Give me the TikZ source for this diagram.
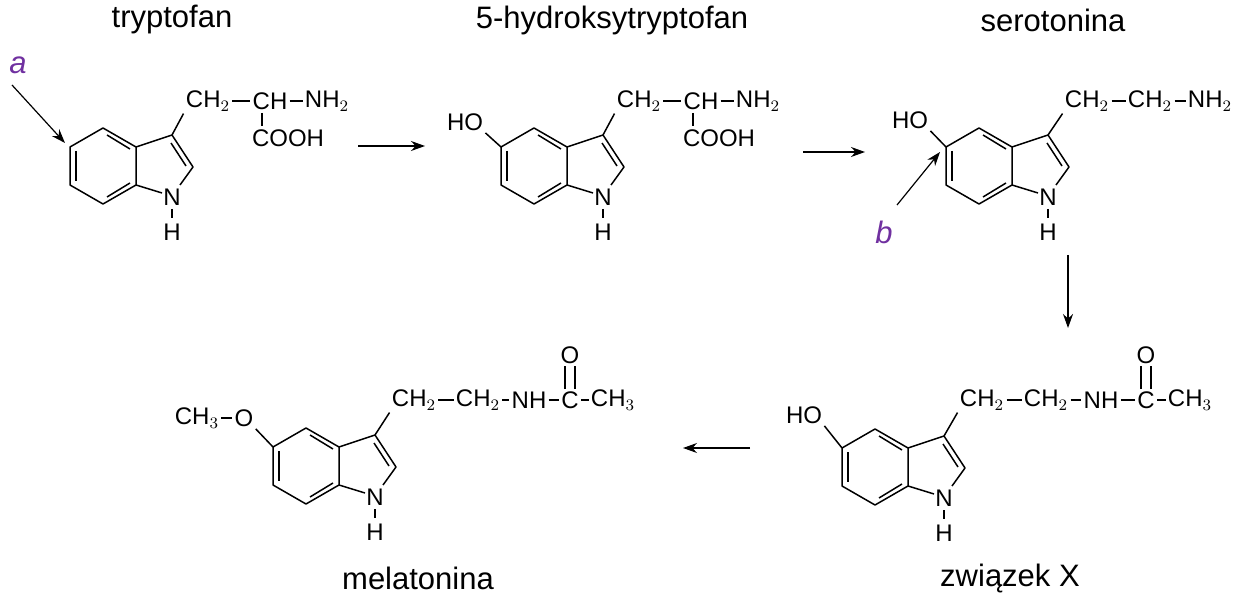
\documentclass[tikz,border=0pt]{standalone}
\usepackage{fontspec}
\usetikzlibrary{arrows.meta}
\setmainfont{Liberation Sans}
\definecolor{lab}{RGB}{112,48,160}
\newcommand{\indole}[2]{%
\begin{scope}[shift={(#1,#2)}]
\draw[bond] (0,-38)--(33,-19)--(33,19)--(0,38)--(-33,19)--(-33,-19)--cycle;
\draw[bond] (-27,-15)--(-27,15);
\draw[bond] (4,-31)--(27,-17);
\draw[bond] (4,31)--(27,17);
\draw[bond] (33,-19)--(69,-31)--(90,1)--(77,19);
\draw[bond] (33,19)--(59,27);
\draw[bond] (68,-23)--(83,0);
\draw[bond] (69,43)--(69,52);
\node[atom] at (69,31) {N};
\node[atom] at (69,66) {H};
\end{scope}}
\begin{document}
\begin{tikzpicture}[x=0.5pt,y=-0.5pt,
 bond/.style={line width=0.75pt,line join=round},
 atom/.style={font=\fontsize{12}{14}\selectfont,inner sep=1pt},
 ttl/.style={font=\fontsize{15.5}{18}\selectfont},
 arr/.style={-{Stealth[length=7pt,width=5pt]},line width=0.6pt},
 lbl/.style={font=\fontsize{15.5}{18}\selectfont\itshape,text=lab}]
\useasboundingbox (0,0) rectangle (1245,603);
% titles
\node[ttl] (t1) at (172,20) {tryptofan};
\node[ttl] (t2) at (612,20) {5-hydroksytryptofan};
\node[ttl] (t3) at (1053,20) {serotonina};
\node[ttl] (t4) at (418,578) {melatonina};
\node[ttl] (t5) at (1010,578) {związek X};
% tryptophan
\indole{103}{166}
\node[atom] (a1) at (208,101) {CH$_2$};
\node[atom] (a2) at (270,101) {CH};
\node[atom] (a3) at (327,101) {NH$_2$};
\node[atom] (a4) at (288,138) {COOH};
\coordinate (a0) at (172,135);
\draw[bond] (a0)--(a1.south west);
\draw[bond] (a1)--(a2); \draw[bond] (a2)--(a3);
\draw[bond] (262,113)--(262,126);
\node[lbl] (la) at (18,65) {a};
\coordinate (pa1) at (12,85); \coordinate (pa2) at (65,143);
\draw[arr] (pa1)--(pa2);
% 5-HTP
\indole{534}{166}
\node[atom] (b0) at (465,122) {HO};
\draw[bond] (b0.south east)--(501,147);
\node[atom] (b1) at (639,101) {CH$_2$};
\node[atom] (b2) at (701,101) {CH};
\node[atom] (b3) at (758,101) {NH$_2$};
\node[atom] (b4) at (719,138) {COOH};
\draw[bond] (603,135)--(b1.south west);
\draw[bond] (b1)--(b2); \draw[bond] (b2)--(b3);
\draw[bond] (693,113)--(693,126);
% serotonin
\indole{979}{166}
\node[atom] (c0) at (910,120) {HO};
\draw[bond] (c0.south east)--(946,147);
\node[atom] (c1) at (1087,101) {CH$_2$};
\node[atom] (c2) at (1150,101) {CH$_2$};
\node[atom] (c3) at (1210,101) {NH$_2$};
\draw[bond] (1048,135)--(c1.south west);
\draw[bond] (c1)--(c2); \draw[bond] (c2)--(c3);
\node[lbl] (lb) at (884,232) {b};
\coordinate (pb1) at (897,205); \coordinate (pb2) at (940,152);
\draw[arr] (pb1)--(pb2);
% zwiazek X
\indole{875}{467}
\node[atom] (d0) at (804,415) {HO};
\draw[bond] (d0.south east)--(842,448);
\node[atom] (d1) at (982,400) {CH$_2$};
\node[atom] (d2) at (1046,400) {CH$_2$};
\node[atom] (d3) at (1101,400) {NH};
\node[atom] (d4) at (1146,400) {C};
\node[atom] (d5) at (1190,400) {CH$_3$};
\node[atom] (d6) at (1146,355) {O};
\draw[bond] (944,436)--(d1.south west);
\draw[bond] (d1)--(d2); \draw[bond] (d2)--(d3); \draw[bond] (d3)--(d4); \draw[bond] (d4)--(d5);
\draw[bond] ([xshift=-2.5]d4.north)--([xshift=-2.5]d6.south);
\draw[bond] ([xshift=2.5]d4.north)--([xshift=2.5]d6.south);
% melatonin
\indole{306}{466}
\node[atom] (e0) at (197,418) {CH$_3$};
\node[atom] (e7) at (244,418) {O};
\draw[bond] (e0)--(e7);
\draw[bond] (e7.south east)--(273,447);
\node[atom] (e1) at (414,400) {CH$_2$};
\node[atom] (e2) at (478,400) {CH$_2$};
\node[atom] (e3) at (529,400) {NH};
\node[atom] (e4) at (570,400) {C};
\node[atom] (e5) at (613,400) {CH$_3$};
\node[atom] (e6) at (570,355) {O};
\draw[bond] (375,435)--(e1.south west);
\draw[bond] (e1)--(e2); \draw[bond] (e2)--(e3); \draw[bond] (e3)--(e4); \draw[bond] (e4)--(e5);
\draw[bond] ([xshift=-2.5]e4.north)--([xshift=-2.5]e6.south);
\draw[bond] ([xshift=2.5]e4.north)--([xshift=2.5]e6.south);
% reaction arrows
\coordinate (r1a) at (358,146); \coordinate (r1b) at (425,146);
\coordinate (r2a) at (803,152); \coordinate (r2b) at (865,152);
\coordinate (r3a) at (1068,255); \coordinate (r3b) at (1068,328);
\coordinate (r4a) at (750,448); \coordinate (r4b) at (683,448);
\draw[arr] (r1a)--(r1b); \draw[arr] (r2a)--(r2b);
\draw[arr] (r3a)--(r3b); \draw[arr] (r4a)--(r4b);
\end{tikzpicture}
\end{document}
